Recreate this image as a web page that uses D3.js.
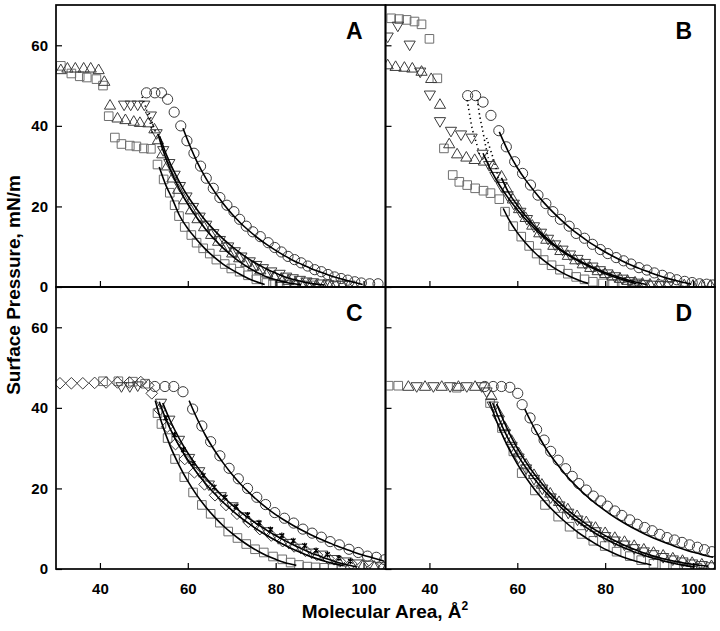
<!DOCTYPE html>
<html><head><meta charset="utf-8">
<script src="https://cdn.jsdelivr.net/npm/d3@7"></script>
<style>
body{margin:0;background:#fff}
svg{display:block}
text{font-family:"Liberation Sans",Arial,sans-serif;font-weight:bold;fill:#000}
</style>
</head><body>
<svg id="chart" width="720" height="631"></svg>
<script>
// ---------- axis / tick data ----------
const xTicks = [40, 60, 80, 100];
const yTicks = [0, 20, 40, 60];
const xDomain = [30, 105];
const yDomain = [0, 70];
const panelLabels = ["A", "B", "C", "D"];
const xTitle = "Molecular Area, Å";
const yTitle = "Surface Pressure, mN/m";

// ---------- Panel A ----------
const A_sq = [[31.1,54.9],[33.5,53.0],[35.4,52.3],[37.0,52.0],[39.2,51.6],[40.7,50.0],[42.0,42.4],[43.4,37.1],[44.9,35.5],[46.8,35.1],[48.3,34.9],[50.0,34.4],[51.6,34.3],[53.1,30.4],[54.5,26.7],[55.9,23.4],[57.0,20.3],[58.0,17.6],[59.3,14.9],[60.8,12.9],[62.0,11.0],[63.5,9.6],[65.0,8.3],[66.5,6.8],[68.4,5.7],[69.9,4.6],[71.8,3.8],[73.7,2.9],[75.6,1.9],[77.9,1.0],[79.4,0.7],[80.9,0.6],[82.5,0.5],[84.2,0.4],[86.0,0.4],[88.0,0.4]];
const A_up = [[31.1,53.9],[32.6,54.3],[34.4,54.3],[36.3,54.3],[37.9,54.3],[39.7,53.9],[41.0,51.0],[42.3,45.1],[44.0,41.9],[45.8,41.5],[47.7,41.1],[49.1,40.8],[51.0,40.7],[52.4,39.2],[53.2,36.5],[54.2,33.0],[55.3,30.0],[56.5,27.0],[57.8,24.2],[59.2,21.6],[60.7,19.1],[62.2,16.9],[63.7,14.9],[65.3,13.0],[66.9,11.3],[68.5,9.8],[70.1,8.4],[71.7,7.2],[73.3,6.1],[74.9,5.1],[76.5,4.2],[78.1,3.4],[79.7,2.7],[81.3,2.1],[82.9,1.6],[84.5,1.1],[86.1,0.8],[87.7,0.6],[89.3,0.5],[91.0,0.5],[92.6,0.5]];
const A_dn = [[45.5,45.2],[47.0,45.2],[48.6,45.2],[50.1,45.2],[51.6,42.5],[52.9,38.1],[54.4,33.9],[55.8,30.7],[57.0,27.8],[58.2,25.0],[59.7,22.4],[61.2,19.8],[62.7,17.4],[64.2,15.4],[65.8,13.3],[67.3,11.6],[69.2,10.0],[70.7,8.8],[72.2,7.5],[74.1,6.3],[75.6,5.4],[77.1,4.6],[79.0,3.8],[80.9,3.2],[82.4,2.5],[83.9,2.1],[85.5,1.7],[87.0,1.3],[88.5,1.1],[90.4,0.8],[92.0,0.6],[93.6,0.5],[95.2,0.5],[96.8,0.5]];
const A_ci = [[50.6,48.2],[52.5,48.2],[54.0,48.2],[55.4,46.6],[56.9,43.4],[58.4,40.0],[59.8,36.3],[61.4,33.2],[62.9,30.0],[64.2,27.0],[65.8,24.5],[67.3,22.2],[68.9,20.3],[70.5,18.7],[71.8,16.8],[73.3,15.1],[74.8,13.7],[76.5,12.5],[78.3,11.0],[79.8,9.8],[81.3,8.7],[82.8,7.6],[84.3,6.8],[85.8,6.0],[87.3,5.2],[88.9,4.3],[90.4,3.8],[91.9,3.1],[93.4,2.5],[94.9,2.1],[96.4,1.7],[98.0,1.3],[99.5,1.0],[101.4,0.8],[103.3,0.8]];
const A_fit_sq = [[53.5,29.8],[55,25.3],[56.5,21.8],[58,18.0],[60,14.5],[62,11.8],[64,9.4],[66,7.4],[68,5.7],[70,4.3],[72,3.1],[74,2.0],[77.5,0.6]];
const A_fit_up = [[53.2,38.0],[54.5,33.5],[56,29.2],[58,24.5],[60,20.6],[62,17.3],[64,14.4],[66,11.9],[68,9.7],[70,7.8],[72,6.1],[74,4.7],[76,3.5],[78,2.5],[80,1.8],[83,1.0],[85.8,0.6]];
const A_fit_dn = [[53.6,37.4],[55,33.2],[57,28.4],[59,24.3],[61,20.9],[63,17.9],[65,15.3],[67,13.0],[69,11.0],[71,9.2],[73,7.6],[75,6.2],[77,5.0],[79,3.9],[81,3.0],[83,2.2],[85,1.6],[88,0.9],[91.1,0.5]];
const A_fit_ci = [[58.9,39.4],[60.5,35.0],[62,31.3],[64,27.2],[66,23.8],[68,20.8],[70,18.2],[72,15.9],[74,13.9],[76,12.1],[78,10.5],[80,9.1],[82,7.8],[84,6.6],[86,5.6],[88,4.6],[90,3.8],[92,3.0],[94,2.3],[96,1.7],[98,1.1],[99.8,0.6]];
const A_dot1 = [[49.6,47.2],[50.6,44.0],[51.5,40.5],[52.0,37.5]];
const A_dot2 = [[51.2,43.2],[52.0,40.5],[52.8,38.0]];

// ---------- Panel B ----------
const B_sq = [[31.3,66.7],[33.1,66.5],[34.8,66.3],[36.6,65.9],[38.2,65.2],[40.0,61.6],[41.8,51.8],[43.3,34.4],[45.3,27.8],[46.8,26.1],[48.6,25.3],[50.4,24.5],[52.3,23.9],[53.9,23.3],[55.9,21.8],[57.2,18.7],[59.05,15.1],[60.9,12.5],[62.7,10.2],[64.4,8.3],[66.0,6.7],[67.8,5.4],[69.7,4.3],[71.5,3.3],[73.4,2.5],[75.3,1.9],[77.2,1.3],[79.5,0.9],[81.8,0.7],[84.1,0.6],[86.3,0.5],[88.5,0.5]];
const B_up = [[30.5,55.1],[32.3,54.7],[34.3,54.5],[36.1,54.3],[38.2,53.5],[40.4,51.7],[42.4,45.3],[44.5,35.5],[46.3,33.0],[48.4,32.2],[50.3,31.6],[52.4,31.2],[54.5,30.3],[56.4,27.5],[57.6,24.5],[59.0,21.8],[60.4,19.4],[61.9,17.2],[63.4,15.3],[65.0,13.4],[66.6,11.8],[68.2,10.3],[69.8,9.0],[71.5,7.8],[73.2,6.7],[74.9,5.7],[76.6,4.8],[78.3,4.0],[80.0,3.3],[81.7,2.7],[83.4,2.1],[85.1,1.6],[86.8,1.2],[88.5,0.9],[90.2,0.7],[92.0,0.6],[94.0,0.5],[96.0,0.5],[98.0,0.5],[100.0,0.4],[102.0,0.4],[104.0,0.4]];
const B_dn = [[30.5,62.1],[32.8,64.8],[35.5,60.1],[37.9,53.4],[40.1,47.7],[42.4,41.1],[44.9,38.7],[47.2,37.8],[49.6,37.0],[52.1,33.0],[53.6,30.2],[55.0,27.5],[56.4,25.0],[57.8,22.7],[59.2,20.6],[60.7,18.6],[62.2,16.8],[63.8,15.0],[65.4,13.4],[67.0,11.9],[68.6,10.5],[70.3,9.2],[72.0,8.0],[73.7,6.9],[75.4,5.9],[77.1,5.0],[78.8,4.1],[80.5,3.3],[82.2,2.6],[83.9,2.0],[85.6,1.4],[87.3,1.0],[89.0,0.7],[90.8,0.5],[92.6,0.4],[94.4,0.4]];
const B_ci = [[48.7,47.5],[50.5,47.5],[52.2,45.9],[54.0,42.6],[55.8,38.8],[57.5,34.8],[59.4,31.1],[61.2,28.2],[63.0,25.3],[64.7,22.8],[66.5,20.7],[68.1,18.7],[69.8,16.8],[71.8,15.1],[73.4,13.3],[75.3,12.1],[77.1,10.6],[78.9,9.3],[80.6,8.3],[82.5,7.3],[84.2,6.5],[85.9,5.7],[87.7,4.8],[89.5,4.2],[91.2,3.5],[93.0,2.9],[94.7,2.3],[96.3,1.8],[98.1,1.4],[99.8,1.1],[101.5,0.8],[103.1,0.7],[104.5,0.5]];
const B_fit_sq = [[56.8,19.5],[58,16.9],[60,13.5],[62,10.8],[64,8.5],[66,6.6],[68,5.0],[70,3.7],[72,2.6],[74,1.7],[76.1,0.9]];
const B_fit_dn = [[52.2,33.2],[54,29.0],[56,25.2],[58,22.0],[60,19.2],[63,15.5],[66,12.4],[70,9.0],[75,5.8],[80,3.3],[84,1.8],[87.1,0.8]];
const B_fit_up = [[56.4,27.1],[58,23.5],[60,20.3],[63,16.2],[66,12.8],[70,9.2],[75,6.0],[80,3.6],[85,1.8],[89.4,0.6]];
const B_fit_ci = [[55.9,38.5],[58,33.5],[60,29.6],[62,26.4],[64,23.6],[66,21.0],[68,18.7],[70,16.6],[72,14.7],[74,13.0],[76,11.4],[78,10.0],[80,8.7],[82,7.5],[84,6.4],[86,5.4],[88,4.5],[90,3.7],[92,2.9],[94,2.2],[96,1.6],[98,1.1],[99.6,0.7]];
const B_dot1 = [[48.6,46.4],[49.2,42.5],[49.8,39.0],[50.7,35.7],[51.5,32.5]];
const B_dot2 = [[50.9,46.5],[51.5,42.1],[52.0,39.5],[52.8,35.0],[53.4,32.0]];
const B_dot3 = [[53.0,37.0],[54.2,33.0],[55.1,29.8],[55.8,26.0]];

// ---------- Panel C ----------
const C_sq = [[40.7,46.6],[44.2,46.6],[47.5,46.5],[50.3,46.0],[53.1,38.7],[54.0,36.0],[55.4,32.5],[57.1,27.3],[59.2,22.8],[61.2,19.0],[63.2,15.9],[65.2,13.7],[67.3,11.5],[69.2,9.3],[71.3,7.7],[73.3,6.2],[75.3,4.9],[77.3,4.1],[79.4,3.1],[81.5,2.4],[83.4,1.6],[85.3,1.0],[87.2,0.6],[89.1,0.4],[91.0,0.3],[93.0,0.2],[95.0,0.2]];
const C_dn = [[44.9,45.3],[46.8,45.3],[48.6,45.5],[53.9,41.2],[55.8,37.0],[58.0,32.0],[60.3,27.5],[62.6,24.2],[64.8,20.9],[67.5,18.0],[70.2,15.5],[72.8,13.0],[75.5,10.9],[78.1,9.3],[80.6,7.6],[83.0,6.4],[85.7,5.2],[88.2,4.0],[90.6,3.5],[93.3,2.4],[95.9,1.8],[98.6,1.3],[101.2,1.0],[103.9,0.6]];
const C_di = [[30.9,46.1],[33.5,46.1],[36.1,46.1],[38.8,46.2],[41.4,46.3],[44.0,46.3],[46.7,46.3],[49.3,46.4],[51.0,45.6],[51.8,43.6],[53.6,39.5],[55.3,35.3],[57.2,31.0],[59.3,27.3],[61.5,24.0],[63.8,21.0],[66.2,18.3],[68.7,15.9],[71.2,13.7],[73.8,11.7],[76.4,9.9],[79.0,8.3],[81.6,6.9],[84.2,5.6],[86.8,4.5],[89.4,3.5],[92.0,2.6],[94.6,1.9],[97.2,1.3],[99.8,0.9],[102.4,0.6],[104.6,0.5]];
const C_st = [[55.0,37.5],[57.0,33.3],[59.0,29.6],[61.2,26.2],[63.5,23.2],[66.0,20.3],[68.5,17.8],[71.0,15.5],[73.6,13.4],[76.2,11.5],[78.8,9.8],[81.4,8.3],[84.0,7.0],[86.6,5.8],[89.2,4.6],[91.8,3.6],[94.4,2.7],[97.0,1.9]];
const C_ci = [[52.5,45.3],[54.8,45.3],[56.8,45.3],[58.9,44.0],[61.1,39.7],[63.2,35.5],[65.2,31.6],[67.3,28.1],[69.4,25.0],[71.5,22.4],[73.6,20.0],[75.7,17.8],[77.7,16.0],[79.8,14.0],[82.0,12.6],[84.1,11.4],[86.2,9.9],[88.3,8.9],[90.4,7.9],[92.4,6.8],[94.5,6.0],[96.7,4.9],[98.8,4.1],[100.9,3.2],[102.9,2.9],[104.8,2.3]];
const C_fit_sq = [[52.6,41.8],[54,36.5],[56,30.5],[58,25.8],[60,21.8],[62,18.4],[64,15.5],[66,13.0],[68,10.8],[70,8.9],[72,7.2],[74,5.7],[76,4.4],[78,3.3],[80,2.4],[82,1.6],[84.7,0.9]];
const C_fit_m1 = [[53.5,41.5],[55,37.2],[57,32.6],[59,28.8],[61,25.5],[63,22.6],[65,20.0],[67,17.7],[69,15.6],[71,13.7],[73,12.0],[75,10.4],[77,9.0],[79,7.7],[81,6.5],[83,5.4],[85,4.4],[87,3.5],[89,2.7],[91,2.0],[93,1.4],[95.5,0.8]];
const C_fit_m2 = [[54.3,41.2],[56,36.8],[58,32.5],[60,28.8],[62,25.6],[64,22.8],[66,20.3],[68,18.0],[70,16.0],[72,14.2],[74,12.5],[76,11.0],[78,9.6],[80,8.3],[82,7.1],[84,6.0],[86,5.0],[88,4.0],[90,3.2],[92,2.4],[94,1.7],[96,1.1],[98.5,0.5]];
const C_fit_ci = [[60.3,41.8],[62,37.6],[64,33.2],[66,29.6],[68,26.4],[70,23.6],[72,21.1],[74,18.9],[76,16.9],[78,15.1],[80,13.5],[82,12.1],[84,10.8],[86,9.6],[88,8.5],[90,7.5],[92,6.6],[94,5.7],[96,4.9],[98,4.1],[100,3.4],[102,2.8],[104.6,2.0]];

// ---------- Panel D ----------
const D_sq = [[30.7,45.5],[32.9,45.5],[46.2,45.0],[53.8,41.2],[56.5,35.0],[59.1,29.2],[61.0,23.8],[64.0,19.5],[66.3,15.9],[69.3,13.0],[71.9,10.5],[74.6,8.7],[77.3,7.0],[79.9,5.7],[82.6,4.3],[85.6,3.2],[88.2,2.2],[91.0,1.3],[93.5,0.9],[96.0,0.6],[98.5,0.4],[101.0,0.3]];
const D_up = [[35.2,45.3],[39.0,45.3],[42.8,45.3],[46.6,45.3],[50.4,45.3],[54.1,43.0],[55.6,39.0],[57.1,35.3],[58.7,31.9],[60.3,28.8],[62.0,26.0],[63.8,23.4],[65.6,21.0],[67.5,18.8],[69.5,16.7],[71.5,14.9],[73.6,13.2],[75.7,11.7],[77.8,10.3],[80.0,9.0],[82.2,7.8],[84.4,6.8],[86.6,5.8],[88.8,4.9],[91.0,4.1],[93.2,3.4],[95.4,2.7],[97.6,2.1],[99.8,1.6],[102.0,1.2],[104.2,0.8]];
const D_dn = [[37.1,45.3],[40.9,45.3],[44.7,45.3],[48.5,45.3],[51.9,45.3],[53.0,44.0],[54.4,40.5],[55.8,37.0],[57.2,33.6],[58.7,30.5],[60.3,27.6],[62.0,24.9],[63.8,22.3],[65.7,19.9],[67.6,17.7],[69.6,15.7],[71.6,13.9],[73.7,12.2],[75.8,10.7],[77.9,9.3],[80.0,8.1],[82.2,7.0],[84.4,6.0],[86.6,5.1],[88.8,4.3],[91.0,3.6],[93.2,2.9],[95.4,2.3],[97.6,1.8],[99.8,1.3],[102.0,0.9],[104.2,0.6]];
const D_ci = [[52.6,45.3],[54.5,45.3],[56.4,45.3],[58.3,45.1],[60.1,43.6],[61.1,40.8],[62.9,37.5],[64.4,34.6],[66.1,32.0],[67.6,29.2],[69.3,27.0],[71.0,24.9],[72.5,23.0],[74.0,21.2],[75.7,19.6],[77.3,18.1],[79.0,16.9],[80.5,15.6],[82.2,14.4],[83.8,13.3],[85.6,12.2],[87.3,11.1],[89.0,10.3],[90.7,9.5],[92.4,8.6],[94.1,7.8],[95.8,7.2],[97.5,6.6],[99.2,6.0],[101.0,5.4],[102.6,4.8],[104.3,4.3]];
const D_fit_sq = [[53.7,41.5],[55,37.5],[57,32.3],[59,28.0],[61,24.3],[63,21.1],[65,18.3],[67,15.8],[69,13.6],[71,11.6],[73,9.8],[75,8.2],[77,6.8],[79,5.5],[81,4.4],[83,3.4],[85,2.6],[87,1.9],[90.5,1.0]];
const D_fit_m1 = [[54.4,41.2],[56,36.8],[58,32.2],[60,28.4],[62,25.1],[64,22.2],[66,19.6],[68,17.3],[70,15.2],[72,13.3],[74,11.6],[76,10.1],[78,8.7],[80,7.5],[82,6.4],[84,5.4],[86,4.5],[88,3.7],[90,3.0],[92,2.4],[94,1.8],[96,1.3],[98,0.9],[100.4,0.5]];
const D_fit_m2 = [[55.3,41.0],[57,36.5],[59,32.0],[61,28.2],[63,24.9],[65,22.0],[67,19.4],[69,17.1],[71,15.1],[73,13.3],[75,11.7],[77,10.2],[79,8.9],[81,7.7],[83,6.6],[85,5.6],[87,4.7],[89,3.9],[91,3.2],[93,2.6],[95,2.1],[97,1.7],[99,1.3],[101,1.0],[103.4,0.7]];
const D_fit_ci = [[61.7,39.7],[63,36.8],[65,32.7],[67,29.1],[69,26.1],[71,23.4],[73,21.0],[75,18.9],[77,17.0],[79,15.3],[81,13.7],[83,12.3],[85,11.0],[87,9.8],[89,8.7],[91,7.7],[93,6.8],[95,6.0],[97,5.2],[99,4.5],[101,3.9],[103,3.3],[104.6,2.9]];

// ---------- panel assembly ----------
const panels = [
  {label:"A", col:0, row:0, xLabels:false, yLabels:true,
   series:[["square",A_sq],["up",A_up],["down",A_dn],["circle",A_ci]],
   fits:[A_fit_sq,A_fit_up,A_fit_dn,A_fit_ci], dots:[A_dot1,A_dot2]},
  {label:"B", col:1, row:0, xLabels:false, yLabels:false,
   series:[["square",B_sq],["up",B_up],["down",B_dn],["circle",B_ci]],
   fits:[B_fit_sq,B_fit_dn,B_fit_up,B_fit_ci], dots:[B_dot1,B_dot2,B_dot3]},
  {label:"C", col:0, row:1, xLabels:true, yLabels:true,
   series:[["square",C_sq],["diamond",C_di],["down",C_dn],["circle",C_ci],["star",C_st]],
   fits:[C_fit_sq,C_fit_m1,C_fit_m2,C_fit_ci], dots:[]},
  {label:"D", col:1, row:1, xLabels:true, yLabels:false,
   series:[["square",D_sq],["up",D_up],["down",D_dn],["circle",D_ci]],
   fits:[D_fit_sq,D_fit_m1,D_fit_m2,D_fit_ci], dots:[]}
];

// ---------- layout ----------
const colX = [56, 385.5], pw = 329.5;
const rowY = [5, 287], ph = 282;

const shapes = {
  square:"M-4.3,-4.3H4.3V4.3H-4.3Z",
  up:"M0,-5.8L5.6,3.8L-5.6,3.8Z",
  down:"M0,5.8L5.6,-3.8L-5.6,-3.8Z",
  circle:"M5.1,0A5.1,5.1 0 1,1 -5.1,0A5.1,5.1 0 1,1 5.1,0Z",
  diamond:"M0,-5.8L5.8,0L0,5.8L-5.8,0Z",
  star:"M-2.3,-2.3L2.3,2.3M-2.3,2.3L2.3,-2.3M0,-3V3"
};
const shapeColor = {square:"#6e6e6e", up:"#3c3c3c", down:"#3c3c3c", circle:"#3a3a3a", diamond:"#3c3c3c", star:"#000"};

const svg = d3.select("#chart");
const defs = svg.append("defs");

panels.forEach((p, i) => {
  const x0 = colX[p.col], y0 = rowY[p.row];
  const x = d3.scaleLinear().domain(xDomain).range([x0, x0 + pw]);
  const y = d3.scaleLinear().domain(yDomain).range([y0 + ph, y0]);
  const cid = "clip" + i;
  defs.append("clipPath").attr("id", cid).append("rect")
    .attr("x", x0).attr("y", y0).attr("width", pw).attr("height", ph);

  const g = svg.append("g").attr("clip-path", `url(#${cid})`);

  // markers
  p.series.forEach(([shape, data]) => {
    g.append("g").selectAll("path").data(data).join("path")
      .attr("d", shapes[shape])
      .attr("transform", d => `translate(${x(d[0])},${y(d[1])})`)
      .attr("fill", "none")
      .attr("stroke", shapeColor[shape])
      .attr("stroke-width", shape === "star" ? 1.2 : 1);
  });

  const line = d3.line().x(d => x(d[0])).y(d => y(d[1])).curve(d3.curveMonotoneX);
  const lineD = d3.line().x(d => x(d[0])).y(d => y(d[1])).curve(d3.curveCatmullRom);
  p.fits.forEach(f => {
    g.append("path").attr("d", line(f)).attr("fill", "none")
      .attr("stroke", "#000").attr("stroke-width", 1.6);
  });
  p.dots.forEach(f => {
    g.append("path").attr("d", lineD(f)).attr("fill", "none")
      .attr("stroke", "#000").attr("stroke-width", 1.6)
      .attr("stroke-dasharray", "1.3,3.2");
  });

  const ax = svg.append("g").attr("transform", `translate(0,${y0 + ph})`)
    .call(d3.axisBottom(x).tickValues(xTicks).tickSize(-6).tickPadding(14)
      .tickFormat(p.xLabels ? d3.format("d") : () => ""));
  const ay = svg.append("g").attr("transform", `translate(${x0},0)`)
    .call(d3.axisLeft(y).tickValues(yTicks).tickSize(-6).tickPadding(8)
      .tickFormat(p.yLabels ? d3.format("d") : () => ""));
  [ax, ay].forEach(a => {
    a.select(".domain").remove();
    a.selectAll(".tick line").attr("stroke", "#000").attr("stroke-width", 1.2);
    a.selectAll(".tick text").style("font-size", "15px").style("font-weight", "bold")
      .style("font-family", '"Liberation Sans",Arial,sans-serif').attr("fill", "#000");
  });

  svg.append("rect").attr("x", x0).attr("y", y0).attr("width", pw).attr("height", ph)
    .attr("fill", "none").attr("stroke", "#000").attr("stroke-width", 1.7);

  svg.append("text").attr("x", x0 + pw - 23).attr("y", y0 + 34)
    .attr("text-anchor", "end").style("font-size", "23px").text(p.label);
});

const xt = svg.append("text").attr("x", 385).attr("y", 618).attr("text-anchor", "middle")
  .style("font-size", "19px");
xt.append("tspan").text(xTitle);
xt.append("tspan").attr("dy", -8).style("font-size", "12px").text("2");

svg.append("text").attr("transform", "translate(20,285) rotate(-90)")
  .attr("text-anchor", "middle").style("font-size", "19px").text(yTitle);
</script>
</body></html>
